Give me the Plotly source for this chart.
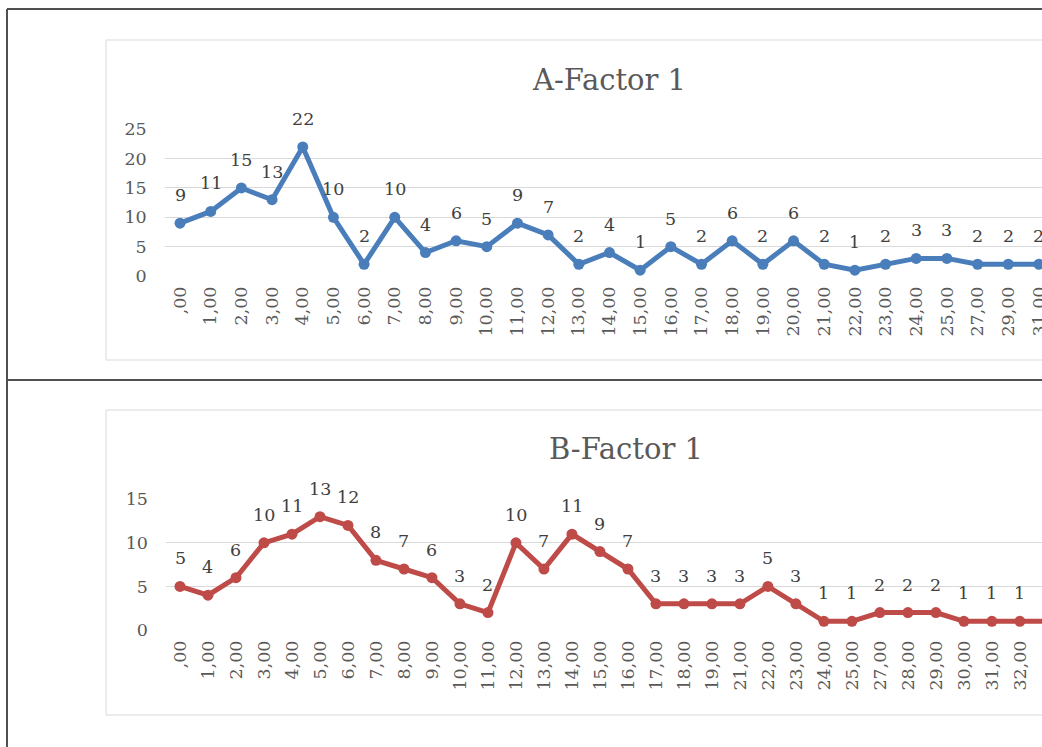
import plotly.graph_objects as go

# ---- data ----
cats_a = [",00", "1,00", "2,00", "3,00", "4,00", "5,00", "6,00", "7,00", "8,00", "9,00",
          "10,00", "11,00", "12,00", "13,00", "14,00", "15,00", "16,00", "17,00", "18,00",
          "19,00", "20,00", "21,00", "22,00", "23,00", "24,00", "25,00", "27,00", "29,00", "31,00"]
vals_a = [9, 11, 15, 13, 22, 10, 2, 10, 4, 6, 5, 9, 7, 2, 4, 1, 5, 2, 6, 2, 6, 2, 1, 2, 3, 3, 2, 2, 2]

cats_b = [",00", "1,00", "2,00", "3,00", "4,00", "5,00", "6,00", "7,00", "8,00", "9,00",
          "10,00", "11,00", "12,00", "13,00", "14,00", "15,00", "16,00", "17,00", "18,00",
          "19,00", "21,00", "22,00", "23,00", "24,00", "25,00", "27,00", "28,00", "29,00",
          "30,00", "31,00", "32,00", "33,00"]
vals_b = [5, 4, 6, 10, 11, 13, 12, 8, 7, 6, 3, 2, 10, 7, 11, 9, 7, 3, 3, 3, 3, 5, 3, 1, 1,
          2, 2, 2, 1, 1, 1, 1]

title_a = "A-Factor 1"
title_b = "B-Factor 1"
yticks_a = [0, 5, 10, 15, 20, 25]
yticks_b = [0, 5, 10, 15]

W, H = 1042, 747
FONT = "DejaVu Serif"
BLUE = "#4A7EBB"
RED = "#BE4B48"
GRID = "#D9D9D9"
TXT = "#595959"
LBL = "#404040"


def px(x):
    return x / W


def py(y):
    return 1 - y / H


fig = go.Figure()
fig.add_trace(go.Scatter(x=cats_a, y=vals_a, mode="lines+markers", xaxis="x", yaxis="y",
                         line=dict(color=BLUE, width=5), marker=dict(color=BLUE, size=11),
                         showlegend=False, hoverinfo="skip"))
fig.add_trace(go.Scatter(x=cats_b, y=vals_b, mode="lines+markers", xaxis="x2", yaxis="y2",
                         line=dict(color=RED, width=5), marker=dict(color=RED, size=11),
                         showlegend=False, hoverinfo="skip"))

annotations = []
for c, v in zip(cats_a, vals_a):
    annotations.append(dict(x=c, y=v, xref="x", yref="y", text=str(v), showarrow=False,
                            yshift=28, font=dict(family=FONT, size=17.5, color=LBL)))
for c, v in zip(cats_b, vals_b):
    annotations.append(dict(x=c, y=v, xref="x2", yref="y2", text=str(v), showarrow=False,
                            yshift=28, font=dict(family=FONT, size=17.5, color=LBL)))
annotations.append(dict(x=px(609), y=py(80), xref="paper", yref="paper", text=title_a,
                        showarrow=False, xanchor="center", yanchor="middle",
                        font=dict(family=FONT, size=29, color=TXT)))
annotations.append(dict(x=px(626), y=py(449), xref="paper", yref="paper", text=title_b,
                        showarrow=False, xanchor="center", yanchor="middle",
                        font=dict(family=FONT, size=29, color=TXT)))

shapes = [
    # outer frame
    dict(type="line", xref="paper", yref="paper", x0=px(7), x1=px(7), y0=py(9), y1=py(760),
         line=dict(color="#505050", width=2)),
    dict(type="line", xref="paper", yref="paper", x0=px(7), x1=px(1060), y0=py(9), y1=py(9),
         line=dict(color="#505050", width=2)),
    dict(type="line", xref="paper", yref="paper", x0=px(7), x1=px(1060), y0=py(380), y1=py(380),
         line=dict(color="#505050", width=2)),
    # chart boxes
    dict(type="rect", xref="paper", yref="paper", x0=px(106), x1=px(1060), y0=py(360), y1=py(40),
         line=dict(color=GRID, width=1), layer="below"),
    dict(type="rect", xref="paper", yref="paper", x0=px(106), x1=px(1060), y0=py(715), y1=py(410),
         line=dict(color=GRID, width=1), layer="below"),
]

tickfont = dict(family=FONT, size=17.5, color=TXT)

fig.update_layout(
    width=W, height=H, margin=dict(l=0, r=0, t=0, b=0, autoexpand=False),
    paper_bgcolor="white", plot_bgcolor="white",
    annotations=annotations, shapes=shapes,
    xaxis=dict(domain=[px(164.7), 1], type="category", range=[-0.5, 28.1],
               showgrid=False, zeroline=False, showline=False, ticks="", automargin=False,
               tickangle=-90, tickfont=tickfont, anchor="y", ticklabelstandoff=6),
    yaxis=dict(domain=[py(276), py(129.3)], range=[0, 25], tickvals=yticks_a,
               showgrid=True, gridcolor=GRID, gridwidth=1, zeroline=False, showline=False,
               ticks="", tickfont=tickfont, anchor="x", ticklabelstandoff=17, automargin=False),
    xaxis2=dict(domain=[px(166), 1], type="category", range=[-0.5, 30.79],
                showgrid=False, zeroline=False, showline=False, ticks="", automargin=False,
                tickangle=-90, tickfont=tickfont, anchor="y2", ticklabelstandoff=6),
    yaxis2=dict(domain=[py(630), py(499.3)], range=[0, 15], tickvals=yticks_b,
                showgrid=True, gridcolor=GRID, gridwidth=1, zeroline=False, showline=False,
                ticks="", tickfont=tickfont, anchor="x2", ticklabelstandoff=17, automargin=False),
)

fig.write_html("out.html", config={"displayModeBar": False},
               post_script="document.body.style.margin='0';document.body.style.overflow='hidden';")
